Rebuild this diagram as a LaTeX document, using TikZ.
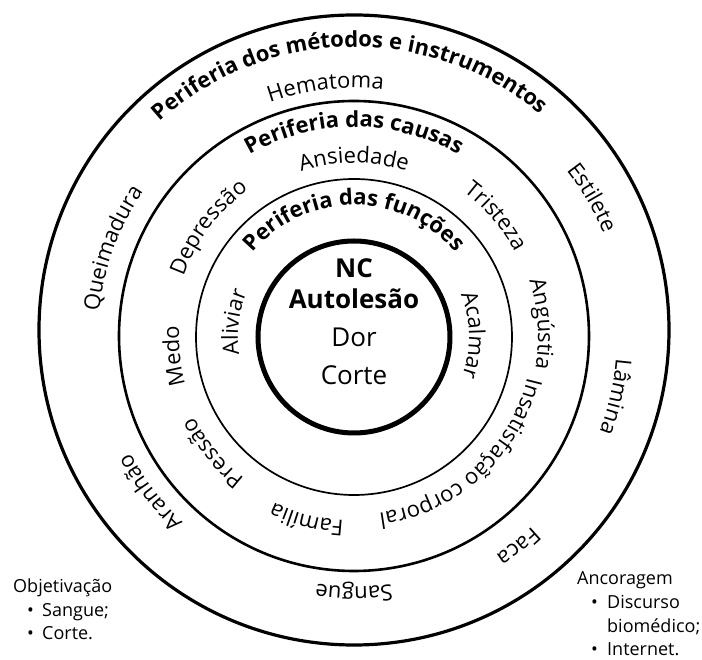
\documentclass[tikz,border=0pt]{standalone}
\usepackage{fontspec}
\setmainfont{Open Sans}
\usetikzlibrary{decorations.text,positioning}

\newcommand{\ringfont}{\fontsize{22}{22}\selectfont}
\newcommand{\headfont}{\fontsize{22}{22}\selectfont\bfseries}
\newcommand{\ringtext}[4]{%
	\path[decorate, decoration={text along path, text align=center, text={|#1|#4}}]
	(#3+85:#2) arc[start angle=#3+85, end angle=#3-85, radius=#2];}

\tikzset{
	centretext/.style={anchor=base, inner sep=0pt, font=\fontsize{26}{26}\selectfont},
	listtext/.style={anchor=base west, inner sep=0pt, font=\fontsize{18}{18}\selectfont}
}

\begin{document}
\begin{tikzpicture}[x=1pt, y=1pt]
		\useasboundingbox (-354,-323) rectangle (348,337);
		\draw[line width=3.2pt] (0,7) circle[radius=315];
		\draw[line width=2.6pt] (0,1) circle[radius=235];
		\draw[line width=1.7pt] (0,0) circle[radius=158];
		\draw[line width=5pt] (0,0) circle[radius=96];
		
		\begin{scope}[every node/.style={centretext}]
			\node[font=\fontsize{26}{26}\selectfont\bfseries] (nc) at (0,59) {NC};
			\node[font=\fontsize{26}{26}\selectfont\bfseries] (auto) at (0,28) {Autolesão};
			\node (dor) at (0,-10) {Dor};
			\node (corte) at (0,-48) {Corte};
		\end{scope}
		
		\ringtext{\headfont}{290}{91}{Periferia dos métodos e instrumentos}
		\ringtext{\ringfont}{249}{96.5}{Hematoma}
		\ringtext{\ringfont}{270}{30.3}{Estilete}
		\ringtext{\ringfont}{263}{-12.9}{Lâmina}
		\ringtext{\ringfont}{260}{-51.9}{Faca}
		\ringtext{\ringfont}{250}{-90}{Sangue}
		\ringtext{\ringfont}{252}{-142.7}{Aranhão}
		\ringtext{\ringfont}{256}{159.8}{Queimadura}
		
		\ringtext{\headfont}{210}{90}{Periferia das causas}
		\ringtext{\ringfont}{174}{90}{Ansiedade}
		\ringtext{\ringfont}{182}{40.5}{Tristeza}
		\ringtext{\ringfont}{184}{4}{Angústia}
		\ringtext{\ringfont}{178}{-47.5}{Insatisfação corporal}
		\ringtext{\ringfont}{184}{-104.5}{Família}
		\ringtext{\ringfont}{179}{-140.7}{Pressão}
		\ringtext{\ringfont}{175}{-174}{Medo}
		\ringtext{\ringfont}{181}{143}{Depressão}
		
		\ringtext{\headfont}{132}{90}{Periferia das funções}
		\ringtext{\ringfont}{116}{173}{Aliviar}
		\ringtext{\ringfont}{115}{1}{Acalmar}
		
		\begin{scope}[every node/.style={listtext}]
			\node (obj) at (-341,-256) {Objetivação};
			\node (objb1) at (-327,-280) {\textbullet};
			\node (obj1) at (-312,-280) {Sangue;};
			\node (objb2) at (-327,-303) {\textbullet};
			\node (obj2) at (-312,-303) {Corte.};
			\node (anc) at (223,-248) {Ancoragem};
			\node (ancb1) at (237,-272) {\textbullet};
			\node (anc1) at (253,-272) {Discurso};
			\node (anc1b) at (253,-296) {biomédico;};
			\node (ancb2) at (237,-319) {\textbullet};
			\node (anc2) at (253,-319) {Internet.};
		\end{scope}
	\end{tikzpicture}
\end{document}
